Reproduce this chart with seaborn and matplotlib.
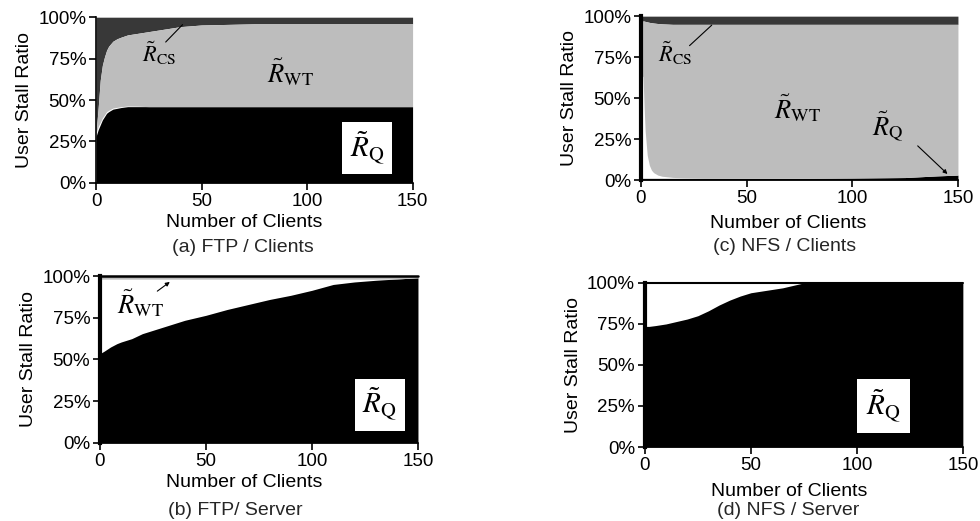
import numpy as np
import matplotlib
matplotlib.use("Agg")
import matplotlib.pyplot as plt
import seaborn as sns
from matplotlib.ticker import FuncFormatter

# ---------------- data (percent of user stall time) ----------------
# (a) FTP / Clients
x_a = [0, 1, 2, 3, 4, 5, 6, 8, 10, 12, 15, 20, 25, 30, 40, 50, 75, 100, 125, 150]
q_a = [28, 32, 35, 38, 40, 42, 43, 44.5, 45, 45.5, 46, 46, 46, 46, 46, 46, 46, 46, 46, 46]
wt_a = [0, 11, 25.5, 31.8, 35, 37, 38.7, 40.3, 41.4, 42, 42.9, 44, 45.3, 46.3, 48.3, 49.3, 50, 50, 50, 50]
cs_a = [70, 55, 38, 29, 24, 20, 17.5, 14.5, 13, 12, 10.7, 9.7, 8.7, 7.7, 5.7, 4.7, 4, 4, 4, 4]

# (c) NFS / Clients
x_c = [0, 0.5, 1, 1.5, 2, 3, 4, 5, 6, 8, 10, 15, 20, 30, 50, 75, 100, 125, 140, 150]
q_c = [1, 1, 1, 1, 1, 1, 1, 1, 1, 1, 1, 1, 1, 1, 1, 1, 1.2, 1.5, 2.5, 3]
wt_c = [32, 33, 34, 52, 66.8, 81.5, 87.2, 90, 91.3, 92.5, 93, 93.4, 93.7, 94, 94, 94, 93.8, 93.5, 92.5, 92]
cs_c = [3, 3, 3, 3, 3.2, 3.5, 3.8, 4, 4.2, 4.5, 4.7, 5, 5, 5, 5, 5, 5, 5, 5, 5]

# (b) FTP / Server
x_b = [0, 2, 5, 8, 10, 15, 20, 30, 40, 50, 60, 75, 80, 90, 100, 110, 120, 130, 140, 150]
q_b = [53.5, 55, 57.5, 59.5, 60.5, 62.5, 65.5, 69.5, 73.5, 76.5, 80, 84.5, 86, 88.5, 91.5, 95, 96.5, 97.5, 98.3, 99]
wt_b = [1.8, 1.8, 1.8, 1.8, 1.8, 1.8, 1.8, 1.8, 1.8, 1.8, 1.8, 1.8, 1.8, 1.8, 1.8, 1.8, 1.8, 1.8, 1.7, 1.0]

# (d) NFS / Server
x_d = [0, 2, 5, 10, 15, 20, 25, 30, 35, 40, 45, 50, 55, 60, 65, 70, 75, 100, 125, 150]
q_d = [73.5, 73.5, 74, 75, 76.5, 78, 80, 83, 86.5, 89.5, 92, 94, 95, 96, 97, 98.5, 100, 100, 100, 100]

y_ticks = [0, 25, 50, 75, 100]
x_ticks = [0, 50, 100, 150]
captions = ["(a) FTP / Clients", "(b) FTP/ Server", "(c) NFS / Clients", "(d) NFS / Server"]

# ---------------- style ----------------
sns.set_theme(style="ticks")
plt.rcParams["font.family"] = ["Liberation Sans", "DejaVu Sans"]
plt.rcParams["mathtext.fontset"] = "stix"

C_Q = "#000000"
C_WT = "#bdbdbd"
C_CS = "#383838"

fig = plt.figure(figsize=(9.8, 5.21), dpi=100)

pos = {
    "a": [0.098, 0.649, 0.323, 0.318],
    "c": [0.654, 0.6545, 0.3235, 0.3145],
    "b": [0.102, 0.150, 0.3245, 0.320],
    "d": [0.658, 0.142, 0.3245, 0.315],
}
axes = {k: fig.add_axes(v) for k, v in pos.items()}

def style(ax, thick_left=False, xl_x=0.46, xl_pad=2):
    ax.set_xlim(0, 150)
    ax.set_ylim(0, 100)
    ax.set_xticks(x_ticks)
    ax.set_yticks(y_ticks)
    ax.yaxis.set_major_formatter(FuncFormatter(lambda v, p: f"{int(v)}%"))
    ax.tick_params(axis="both", direction="out", length=5, width=1.2,
                   labelsize=13.5, colors="black", pad=2)
    ax.set_ylabel("User Stall Ratio", fontsize=14, labelpad=4, color="black")
    ax.set_xlabel("Number of Clients", fontsize=14, labelpad=xl_pad, color="black", x=xl_x)
    sns.despine(ax=ax, top=True, right=True)
    ax.spines["left"].set_linewidth(3 if thick_left else 1.2)
    ax.spines["bottom"].set_linewidth(1.2)
    ax.spines["left"].set_color("black")
    ax.spines["bottom"].set_color("black")
    ax.set_facecolor("white")
    ax.margins(0)

def stack(ax, x, q=None, wt=None, cs=None):
    x = np.asarray(x, float)
    if q is not None:
        q = np.asarray(q, float)
        ax.fill_between(x, 0, q, color=C_Q, lw=0)
    top = np.full_like(x, 100.0)
    if cs is not None:
        cs = np.asarray(cs, float)
        ax.fill_between(x, top - cs, top, color=C_CS, lw=0)
        top = top - cs
    if wt is not None:
        wt = np.asarray(wt, float)
        ax.fill_between(x, top - wt, top, color=C_WT, lw=0)

rlab = dict(color="black")

# (a)
ax = axes["a"]
stack(ax, x_a, q_a, wt_a, cs_a)
style(ax, xl_x=0.467, xl_pad=3)
ax.text(92, 67, r"$\tilde{R}_{\mathrm{WT}}$", fontsize=19, ha="center", va="center", **rlab)
ax.text(30, 78, r"$\tilde{R}_{\mathrm{CS}}$", fontsize=16, ha="center", va="center", **rlab)
ax.plot([33, 41], [85, 95.5], color="black", lw=0.8)
ax.text(128.5, 21, r"$\tilde{R}_{\mathrm{Q}}$", fontsize=21, ha="center", va="center",
        bbox=dict(boxstyle="square,pad=0.25", fc="white", ec="none"), **rlab)

# (c)
ax = axes["c"]
stack(ax, x_c, q_c, wt_c, cs_c)
style(ax, thick_left=True, xl_x=0.464, xl_pad=6)
ax.text(16, 77, r"$\tilde{R}_{\mathrm{CS}}$", fontsize=16, ha="center", va="center", **rlab)
ax.plot([23, 33.5], [82, 94.5], color="black", lw=0.8)
ax.text(74, 44, r"$\tilde{R}_{\mathrm{WT}}$", fontsize=19, ha="center", va="center", **rlab)
ax.text(117, 33, r"$\tilde{R}_{\mathrm{Q}}$", fontsize=19, ha="center", va="center", **rlab)
ax.annotate("", xy=(146, 2.5), xytext=(130, 22),
            arrowprops=dict(arrowstyle="-|>", color="black", lw=0.8, mutation_scale=6))

# (b)
ax = axes["b"]
stack(ax, x_b, q_b, wt_b)
ax.axhline(100, color="black", lw=1.8, clip_on=False)
style(ax, thick_left=True, xl_x=0.453, xl_pad=3)
ax.text(19, 84, r"$\tilde{R}_{\mathrm{WT}}$", fontsize=19, ha="center", va="center", **rlab)
ax.annotate("", xy=(34, 97.5), xytext=(26, 90),
            arrowprops=dict(arrowstyle="-|>", color="black", lw=0.8, mutation_scale=6))
ax.text(132, 23, r"$\tilde{R}_{\mathrm{Q}}$", fontsize=21, ha="center", va="center",
        bbox=dict(boxstyle="square,pad=0.25", fc="white", ec="none"), **rlab)

# (d)
ax = axes["d"]
stack(ax, x_d, q_d)
ax.axhline(100, color="black", lw=1.5, clip_on=False)
style(ax, thick_left=True, xl_x=0.453, xl_pad=7)
ax.text(112.5, 25, r"$\tilde{R}_{\mathrm{Q}}$", fontsize=21, ha="center", va="center",
        bbox=dict(boxstyle="square,pad=0.3", fc="white", ec="none"), **rlab)

fig.text(0.248, 0.524, captions[0], fontsize=14, ha="center", va="center")
fig.text(0.801, 0.526, captions[2], fontsize=14, ha="center", va="center")
fig.text(0.240, 0.021, captions[1], fontsize=14, ha="center", va="center")
fig.text(0.804, 0.003, captions[3], fontsize=14, ha="center", va="bottom")

fig.savefig("out.png", dpi=100, facecolor="white")
